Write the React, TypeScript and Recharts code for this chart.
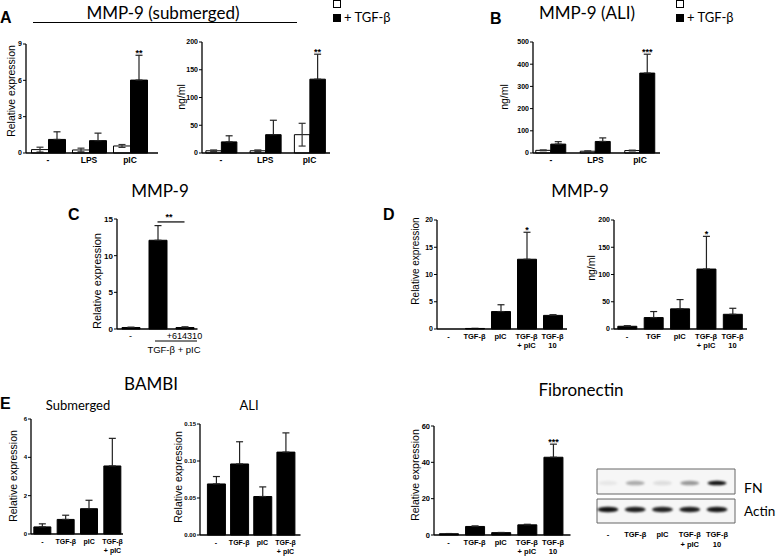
import React from 'react';
import {
  BarChart,
  Bar,
  XAxis,
  YAxis,
  ErrorBar,
  LabelList,
  ReferenceLine,
  ScatterChart,
  Scatter,
  ReferenceArea,
} from 'recharts';

const TICK_FONT = '"Liberation Sans", Arial, sans-serif';
const TITLE_FONT = 'Lato, "Open Sans", sans-serif';

// A: MMP-9 submerged
const aStim = ['-', 'LPS', 'pIC'];
const aRelCtrl = [0.28, 0.25, 0.58];
const aRelCtrlErr = [0.2, 0.15, 0.12];
const aRelTgf = [1.12, 1.02, 6.02];
const aRelTgfErr = [0.63, 0.62, 2.05];
const aRelSig = ['', '', '**'];

const aElisaCtrl = [4, 4, 33];
const aElisaCtrlErr = [1.5, 1.5, 20.5];
const aElisaTgf = [20, 33, 133];
const aElisaTgfErr = [11, 26, 45];
const aElisaSig = ['', '', '**'];

// B: MMP-9 ALI
const bCtrl = [12, 8, 11];
const bCtrlErr = [2, 2, 2];
const bTgf = [40, 52, 360];
const bTgfErr = [11, 16, 85];
const bSig = ['', '', '***'];

// C: inhibitor
const cCats = ['-', 'TGF-β + pIC', '+614310'];
const cTicks = ['-', '', '+614310'];
const cVals = [0.2, 12.1, 0.2];
const cErr = [0.05, 2.0, 0.1];

// D
const dCats = ['-', 'TGF-β', 'pIC', 'TGF-β\n+ pIC', 'TGF-β\n10'];
const dCats2 = ['-', 'TGF', 'pIC', 'TGF-β\n+ pIC', 'TGF-β\n10'];
const dRel = [0, 0.1, 3.2, 12.8, 2.5];
const dRelErr = [0, 0, 1.25, 4.95, 0.12];
const dRelSig = ['', '', '', '*', ''];
const dElisa = [5, 21, 37, 110, 27];
const dElisaErr = [1, 11, 17, 60, 11];
const dElisaSig = ['', '', '', '*', ''];

// E: BAMBI
const eCats = ['-', 'TGF-β', 'pIC', 'TGF-β\n+ pIC'];
const eSub = [0.37, 0.76, 1.32, 3.55];
const eSubErr = [0.16, 0.22, 0.44, 1.44];
const eAli = [0.069, 0.096, 0.052, 0.112];
const eAliErr = [0.01, 0.03, 0.013, 0.026];

// Fibronectin
const fVals = [0.7, 4.7, 1.3, 5.6, 42.8];
const fErr = [0.1, 0.3, 0.1, 0.3, 7.2];
const fSig = ['', '', '', '', '***'];

// western blot band intensities
const fnBand = [0.06, 0.3, 0.1, 0.38, 0.92];
const actinBand = [0.92, 0.88, 0.86, 0.88, 0.9];

const pairRows = (cats: string[], c: number[], ce: number[], t: number[], te: number[], sig: string[]) =>
  cats.map((cat, i) => ({ cat, v1: c[i], e1: ce[i], v2: t[i], e2: [0, te[i]], sig: sig[i] }));

const singleRows = (cats: string[], v: number[], e: number[], sig?: string[]) =>
  cats.map((cat, i) => ({ cat, v2: v[i], e2: [0, e[i]], sig: sig ? sig[i] : '' }));

function BarPanel(p: any) {
  const yW = 34;
  const mTop = 22;
  const mRight = 6;
  const xH = 34;
  const n = p.data.length;
  const band = (p.cN - p.c0) / (n - 1);
  const padL = p.c0 - band / 2 - p.axisX;
  const padR = p.axisEnd - (p.cN + band / 2);
  const width = p.axisEnd - p.axisX + yW + mRight;
  const height = p.zeroY - p.topY + mTop + xH;
  const labels: string[] = p.labels || p.data.map((d: any) => d.cat);

  const catTick = (t: any) => {
    const lines = String(labels[t.index] ?? '').split('\n');
    return (
      <text
        x={t.x}
        y={t.y + (p.catDy ?? 11)}
        textAnchor="middle"
        fontSize={p.catSize ?? 8}
        fontWeight={p.catWeight ?? 'bold'}
        fontFamily={TICK_FONT}
        fill="#000"
      >
        {lines.map((l, i) => (
          <tspan key={i} x={t.x} dy={i === 0 ? 0 : (p.catSize ?? 8) * 1.25}>
            {l}
          </tspan>
        ))}
      </text>
    );
  };

  // asterisks sit just above the error bar cap of the marked bar
  const sigLabel = (props: any) => {
    if (!props.value) return null;
    const row = p.data.find((r: any) => r.sig === props.value);
    if (!row) return null;
    const vb = props.viewBox && props.viewBox.width !== undefined ? props.viewBox : props;
    const perUnit = vb.height / row.v2;
    const top = vb.y - row.e2[1] * perUnit;
    return (
      <text
        x={vb.x + vb.width / 2}
        y={top + 1}
        textAnchor="middle"
        fontSize={9}
        fontWeight="bold"
        fontFamily={TICK_FONT}
        fill="#000"
      >
        {row.sig}
      </text>
    );
  };

  return (
    <div style={{ position: 'absolute', left: p.axisX - yW, top: p.topY - mTop }}>
      <BarChart
        width={width}
        height={height}
        data={p.data}
        margin={{ top: mTop, right: mRight, left: 0, bottom: 0 }}
        barGap={0}
        barSize={p.barSize}
      >
        <XAxis
          dataKey="cat"
          padding={{ left: padL, right: padR }}
          height={xH}
          axisLine={{ stroke: '#000', strokeWidth: 1.3 }}
          tickLine={false}
          tickSize={0}
          tickMargin={0}
          interval={0}
          tick={catTick}
        />
        <YAxis
          width={yW}
          domain={[0, p.max]}
          ticks={p.ticks}
          interval={0}
          tickFormatter={p.fmt}
          axisLine={{ stroke: '#000', strokeWidth: 1.3 }}
          tickLine={{ stroke: '#000', strokeWidth: 1 }}
          tickSize={3}
          tickMargin={1}
          tick={{ fontSize: p.tickSize ?? 7, fontWeight: 'bold', fontFamily: TICK_FONT, fill: '#000' }}
        />
        {p.paired && (
          <Bar dataKey="v1" fill="#fff" stroke="#000" strokeWidth={1} isAnimationActive={false}>
            <ErrorBar dataKey="e1" width={3.5} stroke="#333" strokeWidth={1.2} />
          </Bar>
        )}
        <Bar dataKey="v2" fill="#000" stroke="#000" strokeWidth={1} isAnimationActive={false}>
          <ErrorBar dataKey="e2" width={3.5} stroke="#222" strokeWidth={1.2} />
          <LabelList dataKey="sig" content={sigLabel} />
        </Bar>
        {p.bracket && (
          <ReferenceLine
            segment={[
              { x: p.bracket[0], y: p.bracket[2] },
              { x: p.bracket[1], y: p.bracket[2] },
            ]}
            stroke="#000"
            strokeWidth={1.2}
          />
        )}
      </BarChart>
    </div>
  );
}

function Blot() {
  const fnRows = fnBand.map((v, i) => ({ lane: i, row: 1, v }));
  const actinRows = actinBand.map((v, i) => ({ lane: i, row: 0, v }));
  const band = (rx: number, ry: number) => (s: any) => (
    <ellipse
      cx={s.cx}
      cy={s.cy}
      rx={rx}
      ry={ry}
      fill="#000"
      fillOpacity={s.payload.v}
      filter="url(#blotBlur)"
    />
  );
  const laneTick = (t: any) => {
    const lines = dCats[t.payload.value].split('\n');
    return (
      <text x={t.x} y={t.y + 12} textAnchor="middle" fontSize={7.5} fontWeight="bold" fontFamily={TICK_FONT} fill="#000">
        {lines.map((l, i) => (
          <tspan key={i} x={t.x} dy={i === 0 ? 0 : 9.5}>
            {l}
          </tspan>
        ))}
      </text>
    );
  };
  return (
    <div style={{ position: 'absolute', left: 596, top: 468 }}>
      <ScatterChart width={140} height={86} margin={{ top: 1, right: 1, left: 1, bottom: 0 }}>
        <XAxis
          type="number"
          dataKey="lane"
          domain={[-0.4, 4.66]}
          ticks={[0, 1, 2, 3, 4]}
          interval={0}
          height={31}
          axisLine={false}
          tickLine={false}
          tickSize={0}
          tick={laneTick}
        />
        <YAxis type="number" dataKey="row" domain={[-0.51, 1.53]} hide width={0} />
        <ReferenceArea x1={-0.4} x2={4.66} y1={0.585} y2={1.53} fill="#f6f6f6" fillOpacity={1} stroke="#666" strokeWidth={1} ifOverflow="visible" />
        <ReferenceArea x1={-0.4} x2={4.66} y1={-0.51} y2={0.396} fill="#f6f6f6" fillOpacity={1} stroke="#666" strokeWidth={1} ifOverflow="visible" />
        <Scatter data={fnRows} shape={band(9.5, 2.3)} isAnimationActive={false} />
        <Scatter data={actinRows} shape={band(10.5, 2.8)} isAnimationActive={false} />
      </ScatterChart>
    </div>
  );
}

const YLabel = ({ x, y, text, size = 10.5 }: any) => (
  <text
    x={x}
    y={y}
    transform={`rotate(-90 ${x} ${y})`}
    textAnchor="middle"
    dominantBaseline="central"
    fontSize={size}
    fontFamily={TICK_FONT}
    fill="#000"
  >
    {text}
  </text>
);

const Title = ({ x, y, text, size = 17 }: any) => (
  <text x={x} y={y} textAnchor="middle" fontSize={size} fontFamily={TITLE_FONT} fill="#000">
    {text}
  </text>
);

const Letter = ({ x, y, text }: any) => (
  <text x={x} y={y} fontSize={16} fontWeight="bold" fontFamily={TICK_FONT} fill="#000">
    {text}
  </text>
);

export default function App() {
  return (
    <div style={{ position: 'absolute', left: 0, top: 0, width: 778, height: 559, background: '#fff', overflow: 'hidden' }}>
      <BarPanel
        data={pairRows(aStim, aRelCtrl, aRelCtrlErr, aRelTgf, aRelTgfErr, aRelSig)}
        paired axisX={26} axisEnd={158} topY={44} zeroY={153} c0={48} cN={130}
        max={9} ticks={[0, 3, 6, 9]} barSize={17} catSize={8.5} catDy={10}
      />
      <BarPanel
        data={pairRows(aStim, aElisaCtrl, aElisaCtrlErr, aElisaTgf, aElisaTgfErr, aElisaSig)}
        paired axisX={202} axisEnd={330} topY={42} zeroY={153} c0={221} cN={309.5}
        max={200} ticks={[0, 50, 100, 150, 200]} barSize={15.5} catSize={8.5} catDy={10}
      />
      <BarPanel
        data={pairRows(aStim, bCtrl, bCtrlErr, bTgf, bTgfErr, bSig)}
        paired axisX={533} axisEnd={660} topY={42} zeroY={153} c0={551} cN={640}
        max={500} ticks={[0, 100, 200, 300, 400, 500]} barSize={15} catSize={8.5} catDy={10}
      />
      <BarPanel
        data={singleRows(cCats, cVals, cErr)}
        labels={cTicks}
        axisX={116.5} axisEnd={197} topY={219} zeroY={329} c0={130} cN={184}
        max={15} ticks={[0, 5, 10, 15]} barSize={18} tickSize={8} catSize={9} catWeight="normal" catDy={10}
        bracket={['TGF-β + pIC', '+614310', 14.6]}
      />
      <BarPanel
        data={singleRows(dCats, dRel, dRelErr, dRelSig)}
        axisX={437} axisEnd={567} topY={220} zeroY={329} c0={448.5} cN={552.5}
        max={20} ticks={[0, 5, 10, 15, 20]} barSize={19} catSize={7.5} catDy={10}
      />
      <BarPanel
        data={singleRows(dCats2, dElisa, dElisaErr, dElisaSig)}
        axisX={614} axisEnd={747} topY={220} zeroY={329} c0={627} cN={732.5}
        max={200} ticks={[0, 50, 100, 150, 200]} barSize={19} catSize={7.5} catDy={10}
      />
      <BarPanel
        data={singleRows(eCats, eSub, eSubErr)}
        axisX={31} axisEnd={123} topY={419} zeroY={534} c0={42.5} cN={112.5}
        max={6} ticks={[0, 2, 4, 6]} barSize={17} tickSize={6} catSize={7} catDy={10}
      />
      <BarPanel
        data={singleRows(eCats, eAli, eAliErr)}
        axisX={199.5} axisEnd={300} topY={424} zeroY={535} c0={215.5} cN={285}
        max={0.15} ticks={[0, 0.05, 0.1, 0.15]} fmt={(v: number) => v.toFixed(2)}
        barSize={18} tickSize={6} catSize={7} catDy={10}
      />
      <BarPanel
        data={singleRows(dCats, fVals, fErr, fSig)}
        axisX={433.5} axisEnd={570} topY={426} zeroY={535} c0={448} cN={552.5}
        max={60} ticks={[0, 20, 40, 60]} barSize={19} tickSize={7.5} catSize={7.5} catDy={10}
      />
      <Blot />

      <svg width={778} height={559} style={{ position: 'absolute', left: 0, top: 0, pointerEvents: 'none' }}>
        <defs>
          <filter id="blotBlur" x="-30%" y="-80%" width="160%" height="260%">
            <feGaussianBlur stdDeviation="0.9" />
          </filter>
        </defs>

        <Letter x={0} y={23} text="A" />
        <Title x={163} y={19} text="MMP-9 (submerged)" />
        <line x1={33} x2={297} y1={22.5} y2={22.5} stroke="#000" strokeWidth={1.2} />
        <rect x={333.5} y={0.5} width={7} height={7} fill="#fff" stroke="#000" strokeWidth={1} />
        <rect x={333} y={14} width={8} height={8} fill="#000" />
        <text x={344} y={22} fontSize={13} fontFamily={TITLE_FONT} fill="#000">+ TGF-β</text>
        <YLabel x={11} y={91} text="Relative expression" />
        <YLabel x={181} y={97} text="ng/ml" />

        <Letter x={490} y={24} text="B" />
        <Title x={587} y={19} text="MMP-9 (ALI)" />
        <rect x={676.5} y={0.5} width={7} height={7} fill="#fff" stroke="#000" strokeWidth={1} />
        <rect x={676} y={14} width={8} height={8} fill="#000" />
        <text x={687} y={22} fontSize={13} fontFamily={TITLE_FONT} fill="#000">+ TGF-β</text>
        <YLabel x={504} y={97} text="ng/ml" />

        <Letter x={68} y={220} text="C" />
        <Title x={160} y={197} text="MMP-9" />
        <YLabel x={97} y={281} text="Relative expression" size={11} />
        <text x={169} y={220} textAnchor="middle" fontSize={9} fontWeight="bold" fontFamily={TICK_FONT}>**</text>
        <line x1={155} x2={197} y1={341} y2={341} stroke="#000" strokeWidth={1} />
        <text x={174} y={353} textAnchor="middle" fontSize={9.5} fontFamily={TICK_FONT}>TGF-β + pIC</text>

        <Letter x={383} y={220} text="D" />
        <Title x={580} y={197} text="MMP-9" />
        <YLabel x={415} y={261} text="Relative expression" size={10} />
        <YLabel x={591} y={268} text="ng/ml" />

        <Letter x={0} y={409} text="E" />
        <Title x={151} y={390} text="BAMBI" />
        <Title x={78} y={410} text="Submerged" size={13} />
        <Title x={249} y={410} text="ALI" size={13} />
        <YLabel x={13} y={476} text="Relative expression" />
        <YLabel x={178} y={477} text="Relative expression" />

        <Title x={581} y={396} text="Fibronectin" />
        <YLabel x={415} y={475} text="Relative expression" />
        <text x={744} y={493} fontSize={14} fontFamily={TITLE_FONT} fill="#000">FN</text>
        <text x={744} y={516} fontSize={13.5} fontFamily={TITLE_FONT} fill="#000">Actin</text>
      </svg>
    </div>
  );
}
